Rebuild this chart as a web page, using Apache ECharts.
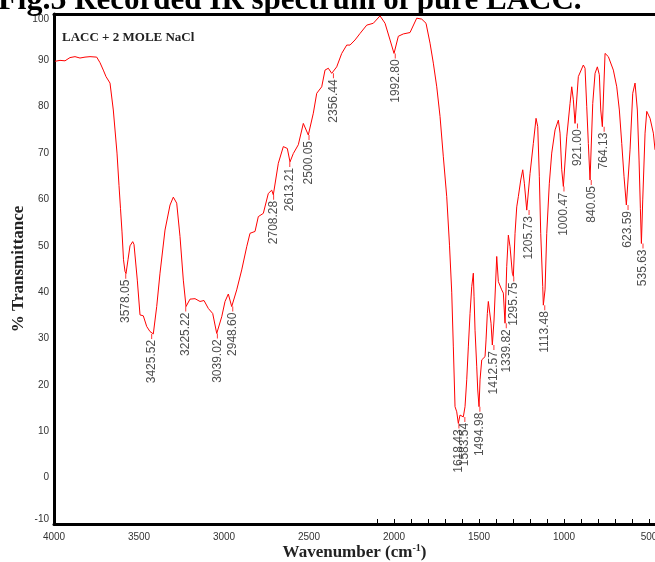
<!DOCTYPE html>
<html>
<head>
<meta charset="utf-8">
<script src="https://cdn.jsdelivr.net/npm/echarts@6/dist/echarts.min.js"></script>
<style>html,body{margin:0;padding:0;background:#fff;}#c{width:655px;height:562px;}</style>
</head>
<body>
<div id="c"></div>
<script>
const wavenumber = [
3994.1,3964.7,3935.3,3905.9,3876.5,3847.1,3817.6,3788.2,3748.8,3729.4,3710.0,3694.1,3670.6,3651.2,3629.4,3617.6,3608.8,3600.0,3591.2,3582.4,
3576.5,3564.7,3552.9,3537.1,3529.4,3510.0,3494.1,3474.7,3454.7,3435.3,3415.9,3395.9,3376.5,3347.1,3317.6,3298.2,3278.2,3258.8,3239.4,3223.5,
3200.0,3170.6,3141.2,3117.6,3092.4,3066.5,3042.9,3013.5,2994.1,2974.7,2954.7,2925.3,2895.9,2866.5,2847.1,2817.6,2798.2,2768.8,2739.4,2719.4,
2710.0,2680.6,2651.2,2627.6,2611.8,2592.4,2562.9,2533.5,2523.5,2504.1,2474.7,2454.7,2425.3,2405.9,2386.5,2366.5,2337.1,2307.6,2278.2,2258.8,
2229.4,2200.0,2160.6,2121.8,2082.4,2052.9,2023.5,2000.0,1974.7,1945.3,1905.9,1866.5,1837.1,1811.8,1788.2,1768.8,1748.8,1729.4,1710.0,1690.0,
1673.5,1660.6,1651.2,1641.2,1631.2,1621.8,1611.8,1601.8,1592.4,1582.4,1572.4,1562.9,1552.9,1542.9,1533.5,1529.4,1523.5,1513.5,1507.6,1500.0,
1494.1,1484.1,1474.7,1464.7,1458.8,1451.2,1445.3,1435.3,1429.4,1421.8,1411.8,1395.9,1386.5,1376.5,1366.5,1357.1,1347.1,1337.1,1327.6,1317.6,
1304.1,1298.2,1288.2,1278.2,1268.8,1254.7,1242.9,1233.5,1219.4,1200.0,1180.6,1164.7,1154.7,1145.3,1137.1,1125.3,1121.8,1111.8,1101.8,1086.5,
1072.4,1052.9,1033.5,1023.5,1013.5,1004.1,984.1,964.7,954.7,945.3,935.3,915.9,886.5,876.5,866.5,857.1,847.1,831.2,817.6,804.1,
792.4,784.1,774.7,758.8,739.4,710.0,690.0,674.7,660.6,647.1,633.5,611.8,595.9,582.4,568.8,558.8,551.0,545.0,537.1,523.5,
513.5,494.1,474.7,464.7
];
// % Transmittance at each wavenumber above
const transmittance = [
89.8,90.0,89.9,90.6,90.8,90.5,90.7,90.8,90.7,89.5,87.9,86.5,85.1,79.3,70.0,63.0,58.0,53.0,47.0,44.5,
44.0,47.0,50.0,50.9,50.3,42.6,35.1,34.9,32.6,31.5,31.0,36.9,44.1,53.4,58.8,60.5,59.2,52.0,42.6,36.9,
38.5,38.6,38.0,38.2,36.5,35.4,31.1,34.7,38.0,39.6,36.9,40.5,44.8,49.8,52.7,53.1,56.3,57.0,61.3,62.0,
61.0,67.8,71.4,71.0,68.1,69.9,71.8,76.4,76.8,73.9,78.6,82.9,84.3,87.9,88.3,87.2,88.6,91.5,93.3,93.3,
94.4,95.8,97.6,98.0,99.6,98.0,94.4,91.5,95.2,95.7,96.0,99.1,98.9,98.0,93.7,89.4,84.3,77.9,69.2,60.6,
50.0,40.0,28.2,15.3,14.2,11.7,13.5,13.9,13.1,15.3,21.1,28.2,35.4,41.2,44.1,39.0,31.8,23.9,18.9,15.3,
21.1,25.4,25.7,26.1,29.7,35.4,38.0,38.0,33.3,28.6,34.0,47.7,42.3,41.9,40.5,39.8,33.3,45.5,52.3,49.8,
44.1,43.4,52.7,58.4,60.6,64.2,66.4,63.5,57.7,65.6,72.1,77.5,75.7,64.9,52.7,41.2,37.2,40.5,52.7,63.5,
70.0,75.0,77.1,74.3,66.4,62.8,73.5,80.7,84.3,81.5,76.4,86.5,89.0,88.3,80.0,72.1,64.2,80.7,87.2,88.6,
86.9,79.3,75.7,91.5,90.8,87.9,84.3,79.3,72.1,64.9,58.8,70.7,82.9,85.1,79.3,68.5,58.0,50.5,59.9,74.3,
79.0,77.5,74.3,70.7
];
// Annotated band minima
const peakLabels = ["3578.05","3425.52","3225.22","3039.02","2948.60","2708.28","2613.21","2500.05","2356.44","1992.80",
  "1618.43","1583.54","1494.98","1412.57","1339.82","1295.75","1205.73","1113.48","1000.47","921.00","840.05","764.13","623.59","535.63"];
const peakWn = [3578.05,3425.52,3225.22,3039.02,2948.60,2708.28,2613.21,2500.05,2356.44,1992.80,
  1618.43,1583.54,1494.98,1412.57,1339.82,1295.75,1205.73,1113.48,1000.47,921.00,840.05,764.13,623.59,535.63];
const peakT = [44.0,31.0,36.9,31.1,36.9,61.0,68.1,73.9,87.2,91.5,
  11.7,13.1,15.3,28.6,33.3,43.4,57.7,37.2,62.8,76.4,64.2,75.7,58.8,50.5];
// Axis tick labels
const xTickLabels = [4000,3500,3000,2500,2000,1500,1000,500];
const xMinorTicks = [2100,2000,1900,1800,1700,1600,1500,1400,1300,1200,1100,1000,900,800,700,600,500];
const yMin = -10, yMax = 100, yStep = 10;
const xMin = 465, xMax = 4000;

const chart = echarts.init(document.getElementById('c'), null, {renderer: 'canvas'});
const serif = '"Liberation Serif", "Times New Roman", serif';
const sans = '"Liberation Sans", Arial, sans-serif';

const option = {
  animation: false,
  backgroundColor: '#ffffff',
  title: [
    {
      text: '{b|Fig.5}{n| Recorded IR spectrum of pure LACC.}',
      left: -2, top: -17, padding: 0,
      textStyle: {
        rich: {
          b: {fontFamily: serif, fontWeight: 'bold', fontSize: 32, color: '#000', lineHeight: 36},
          n: {fontFamily: serif, fontSize: 31, color: '#000', lineHeight: 36}
        }
      }
    },
    {
      text: 'LACC + 2 MOLE NaCl',
      left: 62, top: 31, padding: 0,
      textStyle: {fontFamily: serif, fontWeight: 'bold', fontSize: 13, color: '#222'}
    }
  ],
  grid: {left: 54, right: 0, top: 14, bottom: 38, containLabel: false, outerBoundsMode: 'none'},
  xAxis: [
    {
      type: 'value', inverse: true, min: xMin, max: xMax, position: 'bottom',
      axisLine: {show: true, onZero: false, lineStyle: {color: '#000', width: 3}},
      axisTick: {show: true, inside: true, length: 5, customValues: xMinorTicks, lineStyle: {color: '#000', width: 1}},
      axisLabel: {customValues: xTickLabels, fontSize: 10, color: '#333', margin: 8, fontFamily: sans,
        showMinLabel: true, showMaxLabel: true, hideOverlap: false, formatter: v => String(v)},
      splitLine: {show: false},
      name: '{a|Wavenumber (cm}{s|-1}{a|)}',
      nameLocation: 'middle', nameGap: 19, nameMoveOverlap: false,
      nameTextStyle: {
        rich: {
          a: {fontFamily: serif, fontWeight: 'bold', fontSize: 17, color: '#222'},
          s: {fontFamily: serif, fontWeight: 'bold', fontSize: 10, color: '#222', verticalAlign: 'top', padding: [0, 0, 10, 0]}
        }
      }
    },
    {
      type: 'value', inverse: true, min: xMin, max: xMax, position: 'top',
      axisLine: {show: true, onZero: false, lineStyle: {color: '#000', width: 3}},
      axisTick: {show: false}, axisLabel: {show: false}, splitLine: {show: false}
    }
  ],
  yAxis: {
    type: 'value', min: yMin, max: yMax, interval: yStep,
    axisLine: {show: true, onZero: false, lineStyle: {color: '#000', width: 3}},
    axisTick: {show: false},
    axisLabel: {fontSize: 10, color: '#333', margin: 5, fontFamily: sans,
      verticalAlignMinLabel: 'bottom', verticalAlignMaxLabel: 'top'},
    splitLine: {show: false},
    name: '% Transmittance', nameLocation: 'middle', nameGap: 27, nameMoveOverlap: false,
    nameTextStyle: {fontFamily: serif, fontWeight: 'bold', fontSize: 17, color: '#222'}
  },
  series: [
    {
      type: 'line', xAxisIndex: 0,
      data: wavenumber.map((w, i) => [w, transmittance[i]]),
      showSymbol: false, symbol: 'none', silent: true,
      lineStyle: {color: '#ff0000', width: 1},
      itemStyle: {color: '#ff0000'}
    },
    {
      type: 'scatter', xAxisIndex: 0, silent: true,
      data: peakWn.map((w, i) => ({value: [w, peakT[i]], name: peakLabels[i]})),
      symbol: 'rect', symbolSize: [1, 5], symbolOffset: [0, 2.5],
      itemStyle: {color: '#ff0000'},
      label: {
        show: true, formatter: '{b}', position: 'bottom', distance: 1,
        rotate: 90, align: 'right', verticalAlign: 'middle',
        fontSize: 12, color: '#222', fontFamily: sans
      }
    }
  ]
};
chart.setOption(option);
</script>
</body>
</html>
